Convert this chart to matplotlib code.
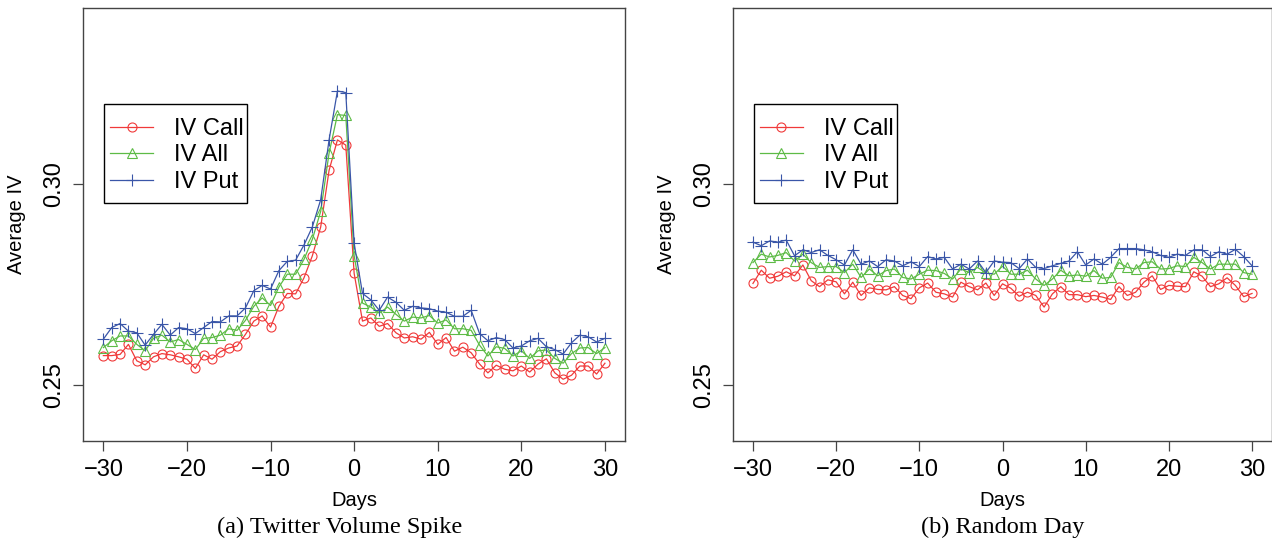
import numpy as np
import matplotlib
matplotlib.use("Agg")
import matplotlib.pyplot as plt
from matplotlib.patches import Rectangle

plt.rcParams['font.family'] = ['Liberation Sans', 'DejaVu Sans']

days = np.arange(-30, 31)

# (a) Twitter Volume Spike
spike_call = [0.2573, 0.2573, 0.2576, 0.2601, 0.2560, 0.2550, 0.2570, 0.2578, 0.2575, 0.2570,
              0.2564, 0.2541, 0.2575, 0.2564, 0.2583, 0.2592, 0.2597, 0.2626, 0.2659, 0.2672,
              0.2644, 0.2696, 0.2728, 0.2727, 0.2767, 0.2822, 0.2894, 0.3035, 0.3111, 0.3098,
              0.2778, 0.2659, 0.2667, 0.2646, 0.2653, 0.2630, 0.2617, 0.2620, 0.2614, 0.2631,
              0.2601, 0.2618, 0.2584, 0.2594, 0.2580, 0.2552, 0.2530, 0.2549, 0.2539, 0.2535,
              0.2547, 0.2532, 0.2552, 0.2565, 0.2530, 0.2514, 0.2524, 0.2547, 0.2547, 0.2527,
              0.2554]
spike_all = [0.2593, 0.2610, 0.2622, 0.2622, 0.2601, 0.2585, 0.2616, 0.2624, 0.2607, 0.2613,
             0.2601, 0.2588, 0.2616, 0.2618, 0.2624, 0.2640, 0.2636, 0.2661, 0.2696, 0.2717,
             0.2698, 0.2744, 0.2776, 0.2776, 0.2813, 0.2863, 0.2933, 0.3078, 0.3174, 0.3172,
             0.2822, 0.2704, 0.2694, 0.2679, 0.2694, 0.2676, 0.2659, 0.2669, 0.2667, 0.2673,
             0.2654, 0.2662, 0.2640, 0.2640, 0.2636, 0.2599, 0.2572, 0.2595, 0.2591, 0.2572,
             0.2585, 0.2566, 0.2585, 0.2587, 0.2566, 0.2554, 0.2578, 0.2592, 0.2593, 0.2578,
             0.2593]
spike_put = [0.2614, 0.2643, 0.2653, 0.2634, 0.2630, 0.2599, 0.2626, 0.2651, 0.2624, 0.2643,
             0.2640, 0.2628, 0.2643, 0.2658, 0.2657, 0.2672, 0.2672, 0.2692, 0.2735, 0.2748,
             0.2739, 0.2785, 0.2808, 0.2811, 0.2849, 0.2894, 0.2962, 0.3111, 0.3233, 0.3229,
             0.2853, 0.2728, 0.2712, 0.2686, 0.2719, 0.2706, 0.2686, 0.2696, 0.2692, 0.2690,
             0.2684, 0.2681, 0.2671, 0.2671, 0.2686, 0.2628, 0.2610, 0.2618, 0.2613, 0.2592,
             0.2597, 0.2610, 0.2616, 0.2595, 0.2588, 0.2577, 0.2605, 0.2624, 0.2620, 0.2607,
             0.2616]

# (b) Random Day
rand_call = [0.2753, 0.2786, 0.2766, 0.2771, 0.2782, 0.2772, 0.2799, 0.2760, 0.2745, 0.2762,
             0.2757, 0.2727, 0.2756, 0.2723, 0.2742, 0.2738, 0.2737, 0.2745, 0.2723, 0.2715,
             0.2742, 0.2754, 0.2731, 0.2727, 0.2719, 0.2756, 0.2745, 0.2737, 0.2754, 0.2723,
             0.2752, 0.2741, 0.2721, 0.2731, 0.2723, 0.2694, 0.2727, 0.2745, 0.2725, 0.2725,
             0.2720, 0.2723, 0.2719, 0.2713, 0.2745, 0.2723, 0.2731, 0.2756, 0.2772, 0.2738,
             0.2748, 0.2746, 0.2745, 0.2782, 0.2771, 0.2745, 0.2752, 0.2767, 0.2748, 0.2720,
             0.2728]
rand_all = [0.2805, 0.2826, 0.2819, 0.2823, 0.2830, 0.2809, 0.2826, 0.2805, 0.2793, 0.2795,
            0.2795, 0.2780, 0.2801, 0.2768, 0.2789, 0.2772, 0.2785, 0.2789, 0.2768, 0.2764,
            0.2776, 0.2786, 0.2785, 0.2778, 0.2764, 0.2789, 0.2780, 0.2793, 0.2779, 0.2776,
            0.2796, 0.2776, 0.2776, 0.2786, 0.2764, 0.2748, 0.2764, 0.2786, 0.2772, 0.2774,
            0.2771, 0.2785, 0.2766, 0.2768, 0.2805, 0.2793, 0.2789, 0.2805, 0.2807, 0.2789,
            0.2790, 0.2797, 0.2795, 0.2818, 0.2805, 0.2789, 0.2801, 0.2801, 0.2801, 0.2780,
            0.2776]
rand_put = [0.2856, 0.2847, 0.2859, 0.2856, 0.2861, 0.2822, 0.2837, 0.2830, 0.2837, 0.2823,
            0.2812, 0.2799, 0.2837, 0.2801, 0.2809, 0.2795, 0.2812, 0.2809, 0.2797, 0.2807,
            0.2795, 0.2820, 0.2814, 0.2818, 0.2789, 0.2801, 0.2789, 0.2809, 0.2780, 0.2809,
            0.2806, 0.2805, 0.2790, 0.2814, 0.2793, 0.2790, 0.2797, 0.2803, 0.2809, 0.2832,
            0.2799, 0.2814, 0.2801, 0.2818, 0.2840, 0.2840, 0.2840, 0.2837, 0.2832, 0.2823,
            0.2818, 0.2826, 0.2823, 0.2837, 0.2837, 0.2820, 0.2832, 0.2826, 0.2838, 0.2820,
            0.2797]

labels = ['IV Call', 'IV All', 'IV Put']
colors = ['#F03A3A', '#5DBB46', '#3A56A8']
markers = ['o', '^', '+']
captions = ['(a) Twitter Volume Spike', '(b) Random Day']

W, H = 1272, 554
fig = plt.figure(figsize=(W / 100, H / 100), dpi=100)

# axes boxes in pixels: left, bottom (from top), width, height
boxes = [(83.3, 441, 541.7, 433), (733, 441, 539, 433)]
caption_x = [340, 1003]
panels = [(spike_call, spike_all, spike_put), (rand_call, rand_all, rand_put)]

for (l, b, w, h), series, cap, cx in zip(boxes, panels, captions, caption_x):
    ax = fig.add_axes([l / W, (H - b) / H, w / W, h / H])
    for vals, lab, c, m in zip(series, labels, colors, markers):
        ms = 8 if m == '+' else 6.5
        ax.plot(days, vals, color=c, marker=m, markersize=ms, markerfacecolor='none',
                markeredgecolor=c, markeredgewidth=0.8, linewidth=0.9, label=lab)

    ax.set_xlim(-32.4, 32.4)
    ax.set_ylim(0.236, 0.344)
    ax.set_xticks([-30, -20, -10, 0, 10, 20, 30])
    ax.set_xticklabels(['\u221230', '\u221220', '\u221210', '0', '10', '20', '30'])
    ax.set_yticks([0.25, 0.30])
    ax.set_yticklabels(['0.25', '0.30'], rotation=90, va='center')
    ax.tick_params(axis='both', labelsize=17, length=7, width=0.9, color='#444444', pad=6)
    for sp in ax.spines.values():
        sp.set_color('#444444')
        sp.set_linewidth(1.0)
    ax.set_xlabel('Days', fontsize=14.5)
    ax.set_ylabel('Average IV', fontsize=14.5)
    ax.xaxis.label.set_va('center')
    ax.yaxis.label.set_va('center')
    ax.xaxis.set_label_coords(0.5, (b - 500) / h)
    ax.yaxis.set_label_coords((16.5 - 83.3) / 541.7, 0.5)

    # legend box, R style: tall top/bottom padding, narrow sides
    bx0 = 21 / w
    bx1 = (21 + 143) / w
    by_top = (b - 104) / h
    by_bot = (b - 203) / h
    ax.add_patch(Rectangle((bx0, by_bot), bx1 - bx0, by_top - by_bot, transform=ax.transAxes,
                           facecolor='white', edgecolor='black', linewidth=1.0, zorder=5))
    leg = ax.legend(loc='upper left', bbox_to_anchor=(27 / w, (b - 118) / h), borderaxespad=0,
                    fontsize=17, frameon=False, handlelength=1.8, handletextpad=0.89,
                    labelspacing=0.19, borderpad=0, numpoints=1)
    leg.set_zorder(6)

    fig.text(cx / W, 1 - 527 / H, cap, ha='center', va='center', fontsize=17.5,
             family=['Liberation Serif', 'DejaVu Serif'])

fig.savefig('out.png', dpi=100)
